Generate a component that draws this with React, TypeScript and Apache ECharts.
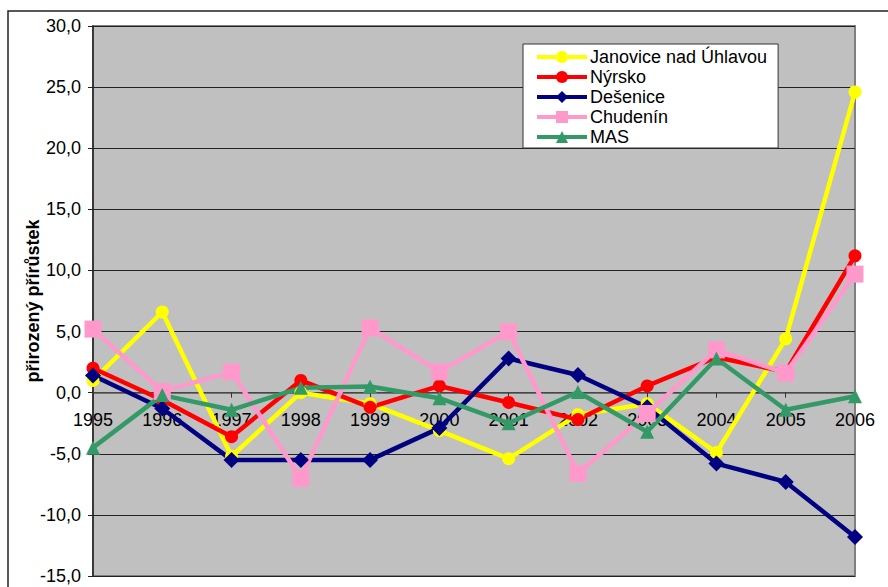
import React, { useEffect, useRef } from "react";
import * as echarts from "echarts";

const years = ["1995","1996","1997","1998","1999","2000","2001","2002","2003","2004","2005","2006"];
const janovice = [1.0, 6.6, -5.2, 0.0, -0.9, -3.1, -5.4, -1.8, -0.9, -4.9, 4.4, 24.6];
const nyrsko = [2.0, -0.6, -3.6, 1.0, -1.2, 0.55, -0.8, -2.2, 0.55, 2.9, 1.7, 11.2];
const desenice = [1.4, -1.3, -5.5, -5.5, -5.5, -2.9, 2.8, 1.45, -1.2, -5.8, -7.3, -11.8];
const chudenin = [5.2, 0.1, 1.7, -7.0, 5.3, 1.7, 5.0, -6.6, -1.7, 3.5, 1.6, 9.7];
const mas = [-4.5, -0.2, -1.4, 0.4, 0.5, -0.45, -2.5, 0.05, -3.2, 2.8, -1.4, -0.3];
const yTicks = { min: -15, max: 30, interval: 5 };

const FONT = "'Liberation Sans', Arial, sans-serif";
const GRID = { left: 93, right: 33, top: 26, bottom: 11 };
const H = 587;

export default function App() {
  const ref = useRef<HTMLDivElement>(null);
  useEffect(() => {
    document.body.style.margin = "0";
    const chart = echarts.init(ref.current!, null, { renderer: "svg" });
    const plotH = H - GRID.top - GRID.bottom;
    const zeroFromBottom = (0 - yTicks.min) / (yTicks.max - yTicks.min) * plotH;
    const mk = (name: string, data: number[], color: string, symbol: string, size: number) => ({
      name,
      type: "line",
      data,
      symbol,
      symbolSize: size,
      showAllSymbol: true,
      lineStyle: { color, width: 4.5 },
      itemStyle: { color },
    });
    chart.setOption({
      animation: false,
      backgroundColor: "#ffffff",
      textStyle: { fontFamily: FONT },
      graphic: [
        {
          type: "rect",
          z: -1,
          shape: { x: 8, y: 11, width: 1000, height: 1000 },
          style: { fill: "none", stroke: "#222", lineWidth: 1.5 },
        },
      ],
      grid: {
        ...GRID,
        containLabel: false,
        outerBoundsMode: "none",
        show: true,
        backgroundColor: "#C0C0C0",
        borderColor: "#808080",
        borderWidth: 2,
      },
      legend: {
        orient: "vertical",
        left: 523,
        top: 44,
        backgroundColor: "#ffffff",
        borderColor: "#333",
        borderWidth: 1,
        borderRadius: 0,
        padding: [3, 11, 1, 12],
        itemWidth: 50,
        itemHeight: 15,
        itemGap: 0,
        lineStyle: { width: 4 },
        textStyle: { fontSize: 18, fontFamily: FONT, color: "#000", lineHeight: 20, padding: [0, 0, 0, -2] },
        data: ["Janovice nad Úhlavou", "Nýrsko", "Dešenice", "Chudenín", "MAS"],
      },
      xAxis: {
        type: "category",
        data: years,
        boundaryGap: false,
        offset: -zeroFromBottom,
        axisLine: { onZero: false, lineStyle: { color: "#555", width: 1.5 } },
        axisTick: { show: true, length: 5, lineStyle: { color: "#333" } },
        axisLabel: { fontSize: 18, color: "#000", margin: 18, fontFamily: FONT, interval: 0, hideOverlap: false },
        splitLine: { show: false },
      },
      yAxis: {
        type: "value",
        min: yTicks.min,
        max: yTicks.max,
        interval: yTicks.interval,
        name: "přirozený přírůstek",
        nameLocation: "middle",
        nameRotate: 90,
        nameGap: 51,
        nameMoveOverlap: false,
        nameTextStyle: { fontSize: 18, fontWeight: "bold", color: "#000", fontFamily: FONT },
        axisLine: { show: true, lineStyle: { color: "#222", width: 1.5 } },
        axisTick: { show: true, length: 5, lineStyle: { color: "#222" } },
        axisLabel: {
          fontSize: 18,
          color: "#000",
          margin: 12,
          fontFamily: FONT,
          formatter: (v: number) => v.toFixed(1).replace(".", ","),
        },
        splitLine: { show: true, lineStyle: { color: "#222", width: 1 } },
      },
      series: [
        mk("Janovice nad Úhlavou", janovice, "#FFFF00", "circle", 13),
        mk("Nýrsko", nyrsko, "#FF0000", "circle", 13),
        mk("Dešenice", desenice, "#000080", "diamond", 16),
        mk("Chudenín", chudenin, "#FF99CC", "rect", 17),
        mk("MAS", mas, "#339966", "triangle", 14),
      ],
    });
    return () => chart.dispose();
  }, []);
  return <div ref={ref} style={{ width: 888, height: H }} />;
}
